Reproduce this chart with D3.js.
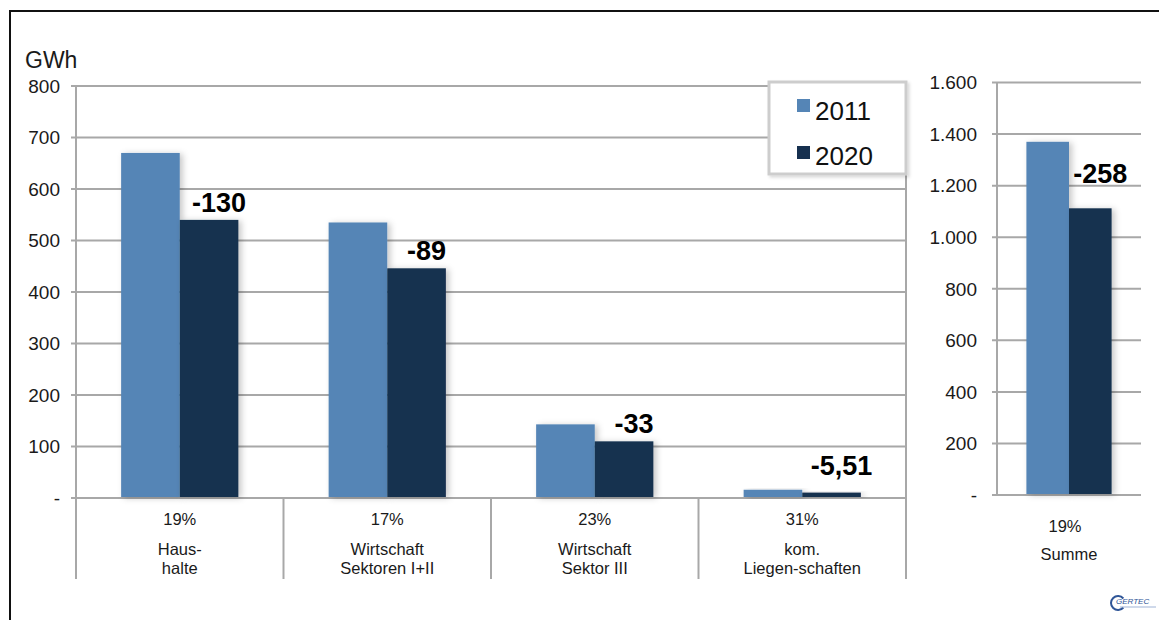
<!DOCTYPE html>
<html>
<head>
<meta charset="utf-8">
<script src="https://cdn.jsdelivr.net/npm/d3@7"></script>
<style>
  html, body { margin: 0; padding: 0; background: #fff; }
  svg { display: block; font-family: "Liberation Sans", Arial, sans-serif; }
</style>
</head>
<body>
<svg id="chart" width="1159" height="620"></svg>
<script>
// ---- data ----
const categories = ["Haushalte", "Wirtschaft I+II", "Wirtschaft III", "kom. Liegenschaften"];
const categoryLines = [["Haus-", "halte"], ["Wirtschaft", "Sektoren I+II"], ["Wirtschaft", "Sektor III"], ["kom.", "Liegen-schaften"]];
const shares = ["19%", "17%", "23%", "31%"];
const series = ["2011", "2020"];
const values2011 = [670, 535, 143, 16];
const values2020 = [540, 446, 110, 10.5];
const deltas = [-130, -89, -33, -5.51];
const leftTicks = [0, 100, 200, 300, 400, 500, 600, 700, 800];

const sumCategory = ["Summe"];
const sumShare = ["19%"];
const sum2011 = [1370];
const sum2020 = [1112];
const sumDelta = [-258];
const rightTicks = [0, 200, 400, 600, 800, 1000, 1200, 1400, 1600];

const colors = { "2011": "#5585b6", "2020": "#16304f" };
const gridColor = "#a8a8a8";

const de = d3.formatLocale({ decimal: ",", thousands: ".", grouping: [3], currency: ["", "€"], minus: "-" });
const tickFmt = v => v === 0 ? "-" : de.format(",.0f")(v);
const deltaFmt = v => de.format(",")(v);

const svg = d3.select("#chart");
const defs = svg.append("defs");
const f = defs.append("filter").attr("id", "shadow").attr("x", "-20%").attr("y", "-20%").attr("width", "160%").attr("height", "140%");
f.append("feDropShadow").attr("dx", 3).attr("dy", 1).attr("stdDeviation", 3).attr("flood-color", "#000").attr("flood-opacity", 0.22);
const lf = defs.append("filter").attr("id", "lshadow").attr("x", "-10%").attr("y", "-10%").attr("width", "130%").attr("height", "130%");
lf.append("feDropShadow").attr("dx", 2).attr("dy", 2).attr("stdDeviation", 1.5).attr("flood-color", "#000").attr("flood-opacity", 0.15);

// outer frame
svg.append("line").attr("x1", 10).attr("y1", 11).attr("x2", 1159).attr("y2", 11).attr("stroke", "#111").attr("stroke-width", 2);
svg.append("line").attr("x1", 10).attr("y1", 10).attr("x2", 10).attr("y2", 620).attr("stroke", "#111").attr("stroke-width", 2);

// ---- left chart ----
const L = { x0: 76, x1: 906, yTop: 86, yBase: 498, bandBottom: 579 };
const yL = d3.scaleLinear().domain([0, 800]).range([L.yBase, L.yTop]);
const xL = d3.scaleBand().domain(categories).range([L.x0, L.x1]).padding(0);
const xSubL = d3.scaleBand().domain(series).range([0, xL.bandwidth()]).paddingInner(0).paddingOuter(0.77);

const gL = svg.append("g");
gL.append("g").selectAll("line").data(leftTicks).join("line")
  .attr("x1", L.x0 - 5).attr("x2", L.x1)
  .attr("y1", d => yL(d)).attr("y2", d => yL(d))
  .attr("stroke", gridColor).attr("stroke-width", 2);
gL.append("line").attr("x1", L.x0).attr("x2", L.x0).attr("y1", L.yTop).attr("y2", L.bandBottom)
  .attr("stroke", gridColor).attr("stroke-width", 2);
gL.append("g").selectAll("line").data(categories.slice(1)).join("line")
  .attr("x1", d => xL(d)).attr("x2", d => xL(d)).attr("y1", L.yBase).attr("y2", L.bandBottom)
  .attr("stroke", gridColor).attr("stroke-width", 2);
gL.append("line").attr("x1", L.x1).attr("x2", L.x1).attr("y1", L.yTop).attr("y2", L.bandBottom)
  .attr("stroke", gridColor).attr("stroke-width", 2);

gL.append("g").selectAll("text").data(leftTicks).join("text")
  .attr("x", 60).attr("y", d => yL(d)).attr("dy", "0.36em")
  .attr("text-anchor", "end").attr("font-size", 19).attr("fill", "#1a1a1a")
  .text(tickFmt);
svg.append("text").attr("x", 25).attr("y", 68).attr("font-size", 23).attr("fill", "#1a1a1a").text("GWh");

const rowsL = categories.map((c, i) => ({ c, i, v: { "2011": values2011[i], "2020": values2020[i] } }));
const barG = gL.append("g");
rowsL.forEach(r => {
  series.forEach(s => {
    barG.append("rect")
      .attr("x", xL(r.c) + xSubL(s))
      .attr("width", xSubL.bandwidth())
      .attr("y", yL(r.v[s]))
      .attr("height", L.yBase - yL(r.v[s]) - 1)
      .attr("fill", colors[s])
      .attr("filter", "url(#shadow)");
  });
});
gL.append("g").selectAll("text").data(rowsL).join("text")
  .attr("x", d => xL(d.c) + xSubL("2020") + xSubL.bandwidth() / 2 + 10)
  .attr("y", d => Math.min(yL(d.v["2020"]) - 8, yL(45)))
  .attr("text-anchor", "middle").attr("font-size", 27).attr("font-weight", "bold").attr("fill", "#000")
  .text((d, i) => deltaFmt(deltas[i]));

gL.append("g").selectAll("text").data(shares).join("text")
  .attr("x", (d, i) => xL(categories[i]) + xL.bandwidth() / 2)
  .attr("y", 525).attr("text-anchor", "middle").attr("font-size", 16.5).attr("fill", "#1a1a1a")
  .text(d => d);
categoryLines.forEach((lines, i) => {
  lines.forEach((t, j) => {
    gL.append("text")
      .attr("x", xL(categories[i]) + xL.bandwidth() / 2)
      .attr("y", 555 + j * 19).attr("text-anchor", "middle").attr("font-size", 16.5).attr("fill", "#1a1a1a")
      .text(t);
  });
});

// legend
const leg = svg.append("g").attr("transform", "translate(769,82)");
leg.append("rect").attr("x", 0).attr("y", 0).attr("width", 137).attr("height", 92)
  .attr("fill", "#fff").attr("stroke", "#cdcdcd").attr("stroke-width", 3).attr("filter", "url(#lshadow)");
series.forEach((s, i) => {
  leg.append("rect").attr("x", 28).attr("y", 17 + i * 47).attr("width", 13).attr("height", 13).attr("fill", colors[s]);
  leg.append("text").attr("x", 46).attr("y", 38 + i * 45).attr("font-size", 26).attr("fill", "#111").text(s);
});

// ---- right chart ----
const R = { x0: 997, x1: 1141, yTop: 82.5, yBase: 495 };
const yR = d3.scaleLinear().domain([0, 1600]).range([R.yBase, R.yTop]);
const xR = d3.scaleBand().domain(sumCategory).range([R.x0, R.x1]).padding(0);
const xSubR = d3.scaleBand().domain(series).range([0, xR.bandwidth()]).paddingInner(0).paddingOuter(0.69);
const gR = svg.append("g");
gR.append("g").selectAll("line").data(rightTicks).join("line")
  .attr("x1", R.x0 - 5).attr("x2", R.x1)
  .attr("y1", d => yR(d)).attr("y2", d => yR(d))
  .attr("stroke", gridColor).attr("stroke-width", 2);
gR.append("line").attr("x1", R.x0).attr("x2", R.x0).attr("y1", R.yTop).attr("y2", R.yBase)
  .attr("stroke", gridColor).attr("stroke-width", 2);
gR.append("g").selectAll("text").data(rightTicks).join("text")
  .attr("x", 977).attr("y", d => yR(d)).attr("dy", "0.36em")
  .attr("text-anchor", "end").attr("font-size", 19).attr("fill", "#1a1a1a")
  .text(tickFmt);
const rowsR = sumCategory.map((c, i) => ({ c, i, v: { "2011": sum2011[i], "2020": sum2020[i] } }));
rowsR.forEach(r => {
  series.forEach(s => {
    gR.append("rect")
      .attr("x", xR(r.c) + xSubR(s))
      .attr("width", xSubR.bandwidth())
      .attr("y", yR(r.v[s]))
      .attr("height", R.yBase - yR(r.v[s]) - 1)
      .attr("fill", colors[s])
      .attr("filter", "url(#shadow)");
  });
});
gR.append("g").selectAll("text").data(rowsR).join("text")
  .attr("x", d => xR(d.c) + xSubR("2020") + xSubR.bandwidth() / 2 + 10)
  .attr("y", d => yR(d.v["2020"]) - 25)
  .attr("text-anchor", "middle").attr("font-size", 27).attr("font-weight", "bold").attr("fill", "#000")
  .text((d, i) => deltaFmt(sumDelta[i]));
gR.append("text").attr("x", xR("Summe") + xR.bandwidth() / 2 - 4).attr("y", 532)
  .attr("text-anchor", "middle").attr("font-size", 16.5).attr("fill", "#1a1a1a").text(sumShare[0]);
gR.append("text").attr("x", xR("Summe") + xR.bandwidth() / 2).attr("y", 560)
  .attr("text-anchor", "middle").attr("font-size", 16.5).attr("fill", "#1a1a1a").text(sumCategory[0]);

// logo
const logo = svg.append("g").attr("transform", "translate(1118,603)");
logo.append("path").attr("d", d3.arc()({ innerRadius: 6, outerRadius: 8, startAngle: Math.PI / 2 + 0.7, endAngle: Math.PI / 2 + Math.PI * 2 - 0.7 }))
  .attr("fill", "#2f5597");
logo.append("text").attr("x", -2).attr("y", 1).attr("font-size", 8).attr("fill", "#2f5597").attr("font-style", "italic").text("GERTEC");
logo.append("line").attr("x1", 2).attr("x2", 38).attr("y1", 4).attr("y2", 4).attr("stroke", "#9fb3d6").attr("stroke-width", 1);
</script>
</body>
</html>
